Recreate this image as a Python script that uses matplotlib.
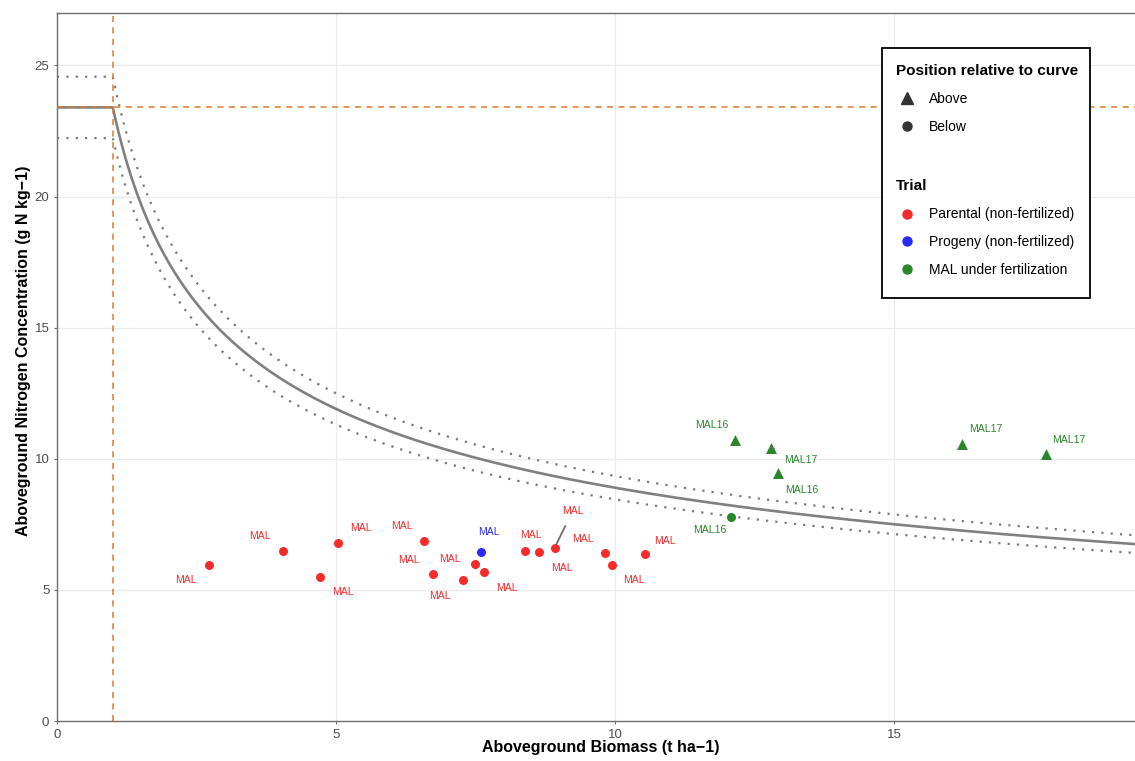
import numpy as np
import matplotlib
matplotlib.use("Agg")
import matplotlib.pyplot as plt
from matplotlib.lines import Line2D
from matplotlib.patches import Rectangle

plt.rcParams['font.family'] = ['Liberation Sans', 'DejaVu Sans']

# ---------------- data ----------------
# critical N dilution curve parameters
nc_a = 23.4
nc_b = 0.42
w_min = 1.0
band = 0.05

parental_x = [2.72, 4.05, 4.71, 5.04, 6.58, 6.73, 7.27, 7.49, 7.66, 8.39, 8.64, 8.92, 9.83, 9.94, 10.54]
parental_y = [5.95, 6.49, 5.50, 6.79, 6.87, 5.60, 5.38, 5.99, 5.68, 6.50, 6.44, 6.61, 6.41, 5.94, 6.36]
parental_lab = ["MAL"] * 15

progeny_x = [7.59]
progeny_y = [6.45]
progeny_lab = ["MAL"]

fert_x = [12.16, 12.80, 12.93, 16.22, 17.72, 12.08]
fert_y = [10.70, 10.43, 9.45, 10.57, 10.18, 7.79]
fert_lab = ["MAL16", "MAL17", "MAL16", "MAL17", "MAL17", "MAL16"]

# label offsets (pixels, repel-style placement)
parental_off = [(-23, -15), (-23, 15), (23, -15), (23, 15), (-22, 15), (-24, 14),
                (-23, -16), (-25, 5), (23, -16), (6, 16), (23, -16), (18, 37),
                (-23, 14), (22, -15), (20, 13)]
progeny_off = [(8, 20)]
fert_off = [(-24, 15), (30, -12), (23, -17), (24, 15), (23, 14), (-21, -13)]

RED = '#F52A2A'
BLUE = '#2A2AF5'
GREEN = '#2A862A'
ORANGE = '#DC7A2E'
GRAY = '#808080'

# ---------------- figure ----------------
W, H = 1135, 761
fig = plt.figure(figsize=(W / 100, H / 100), dpi=100)
ax = fig.add_axes([57 / W, 1 - 721 / H, (W - 57) / W, (721 - 13) / H])

ax.set_xlim(0, 19.32)
ax.set_ylim(0, 27.0)
ax.set_xticks([0, 5, 10, 15])
ax.set_yticks([0, 5, 10, 15, 20, 25])
ax.grid(True, color='#EBEBEB', lw=0.9, zorder=0)
ax.set_axisbelow(True)
for s in ['left', 'bottom', 'top']:
    ax.spines[s].set_color('#6E6E6E')
    ax.spines[s].set_linewidth(1.0)
ax.spines['right'].set_visible(False)
ax.tick_params(axis='both', colors='#6E6E6E', labelcolor='#4D4D4D', labelsize=9.5,
               length=2.5, width=0.8, pad=3)

# curve
w1 = np.linspace(0, w_min, 50)
w2 = np.linspace(w_min, 19.32, 400)
ww = np.concatenate([w1, w2])
nc = np.where(ww < w_min, nc_a, nc_a * np.maximum(ww, w_min) ** (-nc_b))
ax.plot(ww, nc, color=GRAY, lw=1.9, zorder=2, solid_capstyle='butt')
ax.plot(ww, nc * (1 + band), color='#7A7A7A', lw=1.6, ls=(0, (1, 3.2)), zorder=2)
ax.plot(ww, nc * (1 - band), color='#7A7A7A', lw=1.6, ls=(0, (1, 3.2)), zorder=2)

ax.axvline(w_min, color=ORANGE, lw=1.1, ls=(0, (4, 3.5)), zorder=3)
ax.axhline(nc_a, color=ORANGE, lw=1.1, ls=(0, (4, 3.5)), zorder=3)

# points
ax.scatter(parental_x, parental_y, s=42, color=RED, marker='o', zorder=4, linewidths=0)
ax.scatter(progeny_x, progeny_y, s=42, color=BLUE, marker='o', zorder=4, linewidths=0)
fert_curve = [nc_a * x ** (-nc_b) for x in fert_x]
above = [y > c for y, c in zip(fert_y, fert_curve)]
ax.scatter([x for x, a in zip(fert_x, above) if a], [y for y, a in zip(fert_y, above) if a],
           s=62, color=GREEN, marker='^', zorder=4, linewidths=0)
ax.scatter([x for x, a in zip(fert_x, above) if not a], [y for y, a in zip(fert_y, above) if not a],
           s=42, color=GREEN, marker='o', zorder=4, linewidths=0)

def labels(xs, ys, labs, offs, color):
    for x, y, l, (dx, dy) in zip(xs, ys, labs, offs):
        long_ = (dx * dx + dy * dy) > 1000
        ax.annotate(l, (x, y), xytext=(dx, dy), textcoords='offset pixels',
                    ha='center', va='center', fontsize=7.6, color=color, zorder=5,
                    arrowprops=dict(arrowstyle='-', color='#6E6E6E', lw=1.3,
                                    shrinkA=6, shrinkB=3) if long_ else None)

labels(parental_x, parental_y, parental_lab, parental_off, RED)
labels(progeny_x, progeny_y, progeny_lab, progeny_off, BLUE)
labels(fert_x, fert_y, fert_lab, fert_off, GREEN)

ax.set_xlabel('Aboveground Biomass (t ha\u22121)', fontsize=11.5, fontweight='bold')
ax.set_ylabel('Aboveground Nitrogen Concentration (g N kg\u22121)', fontsize=11.5, fontweight='bold')
ax.xaxis.set_label_coords(0.504, -0.0275)
ax.yaxis.set_label_coords(-0.0245, 0.5226)

# legend box
rect = Rectangle((882 / W, 1 - 298 / H), (1090 - 882) / W, (298 - 48) / H,
                 transform=fig.transFigure, facecolor='white', edgecolor='black',
                 lw=1.3, zorder=6, clip_on=False)
ax.add_patch(rect)

h_above = Line2D([], [], ls='none', marker='^', color='#333333', ms=8.5)
h_below = Line2D([], [], ls='none', marker='o', color='#333333', ms=6.5)
leg1 = ax.legend([h_above, h_below], ['Above', 'Below'], title='Position relative to curve',
                 title_fontproperties={'weight': 'bold', 'size': 11}, fontsize=10,
                 frameon=False, loc='upper left', bbox_to_anchor=(896 / W, 1 - 64 / H),
                 bbox_transform=fig.transFigure, borderpad=0, borderaxespad=0,
                 handlelength=1.6, handletextpad=0.8, labelspacing=1.0, alignment='left')
leg1.set_zorder(7)
ax.add_artist(leg1)

h_par = Line2D([], [], ls='none', marker='o', color=RED, ms=6.5)
h_pro = Line2D([], [], ls='none', marker='o', color=BLUE, ms=6.5)
h_mal = Line2D([], [], ls='none', marker='o', color=GREEN, ms=6.5)
leg2 = ax.legend([h_par, h_pro, h_mal],
                 ['Parental (non-fertilized)', 'Progeny (non-fertilized)', 'MAL under fertilization'],
                 title='Trial', title_fontproperties={'weight': 'bold', 'size': 11}, fontsize=10,
                 frameon=False, loc='upper left', bbox_to_anchor=(896 / W, 1 - 179.5 / H),
                 bbox_transform=fig.transFigure, borderpad=0, borderaxespad=0,
                 handlelength=1.6, handletextpad=0.8, labelspacing=1.0, alignment='left')
leg2.set_zorder(7)

fig.savefig('out.png', dpi=100)
